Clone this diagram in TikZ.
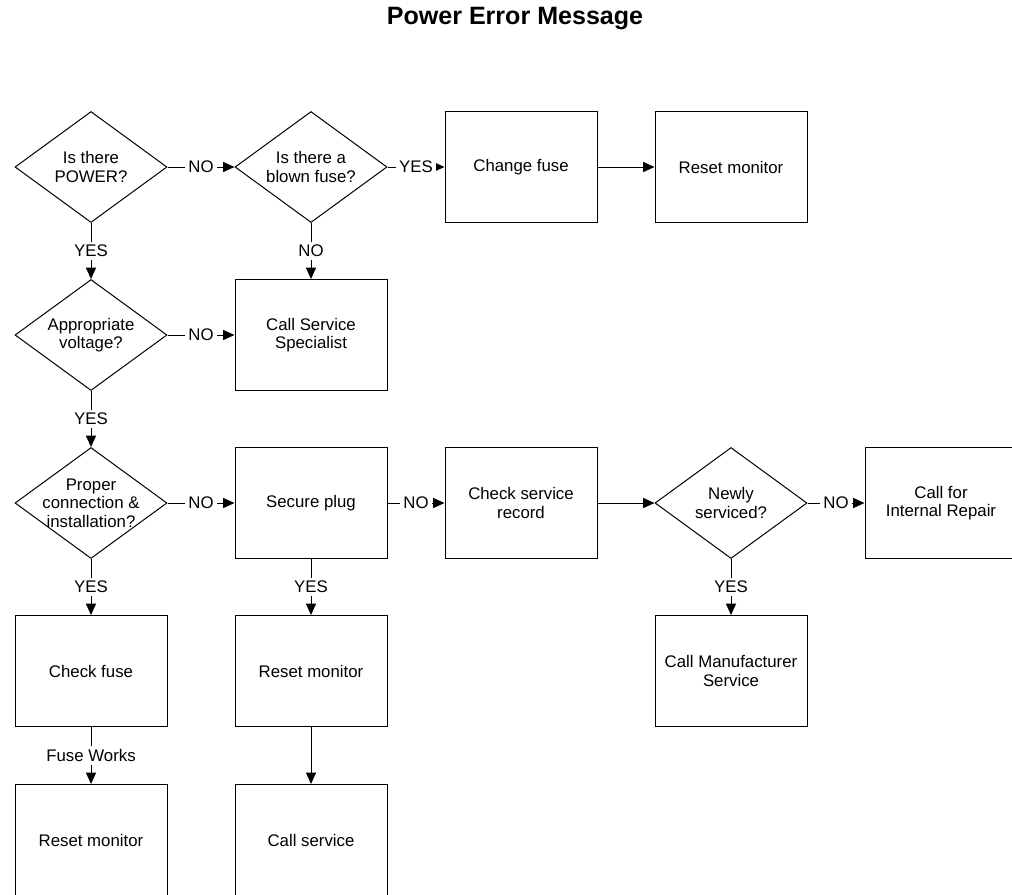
\documentclass[tikz,border=0pt]{standalone}
\usepackage{fontspec}
\setmainfont{Liberation Sans}
\usetikzlibrary{shapes.geometric,arrows.meta}

\tikzset{
  base/.style={font=\fontsize{12.6}{13.9}\selectfont, align=center},
  stepbox/.style={base, draw, line width=0.75pt, rectangle, inner sep=0pt,
    minimum width=114pt, minimum height=83.25pt},
  decision/.style={draw, line width=0.75pt, diamond, inner sep=0pt, aspect=1.37,
    minimum width=114pt, minimum height=83.25pt},
  dtext/.style={base, inner sep=0pt},
  flow/.style={line width=0.75pt, -{Triangle[length=8.5pt,width=7.5pt]}},
  lab/.style={base, fill=white, inner sep=2.2pt},
}

\begin{document}
\begin{tikzpicture}[x=0.75pt, y=-0.75pt]
\useasboundingbox (0,0) rectangle (1012,894);
\clip (0,0) rectangle (1012,894);

% title
\node[font=\fontsize{18.8}{22}\selectfont\bfseries] (title) at (515,18.5) {Power Error Message};

% decisions
\node[decision, label={[dtext]center:Is there\\POWER?}] (power) at (91,167) {};
\node[decision, label={[dtext]center:Is there a\\blown fuse?}] (fuse) at (311,167) {};
\node[decision, label={[dtext]center:Appropriate\\voltage?}] (volt) at (91,335) {};
\node[decision, label={[dtext]center:Proper\\connection \&\\installation?}] (conn) at (91,503) {};
\node[decision, label={[dtext]center:Newly\\serviced?}] (newly) at (731,503) {};

% actions
\node[stepbox] (change) at (521,167) {Change fuse};
\node[stepbox] (reset1) at (731,167) {Reset monitor};
\node[stepbox] (spec) at (311,335) {Call Service\\Specialist};
\node[stepbox] (plug) at (311,503) {Secure plug};
\node[stepbox] (record) at (521,503) {Check service\\record};
\node[stepbox] (internal) at (941,503) {Call for\\Internal Repair};
\node[stepbox] (check) at (91,671) {Check fuse};
\node[stepbox] (reset2) at (311,671) {Reset monitor};
\node[stepbox] (manuf) at (731,671) {Call Manufacturer\\Service};
\node[stepbox] (reset3) at (91,840) {Reset monitor};
\node[stepbox] (callsvc) at (311,840) {Call service};

% connectors
\draw[flow] (power.east) -- node[lab]{NO} (fuse.west);
\draw[flow] (fuse.east) -- node[lab]{YES} (change.west);
\draw[flow] (change.east) -- (reset1.west);
\draw[flow] (power.south) -- node[lab]{YES} (volt.north);
\draw[flow] (fuse.south) -- node[lab]{NO} (spec.north);
\draw[flow] (volt.east) -- node[lab]{NO} (spec.west);
\draw[flow] (volt.south) -- node[lab]{YES} (conn.north);
\draw[flow] (conn.east) -- node[lab]{NO} (plug.west);
\draw[flow] (plug.east) -- node[lab]{NO} (record.west);
\draw[flow] (record.east) -- (newly.west);
\draw[flow] (newly.east) -- node[lab]{NO} (internal.west);
\draw[flow] (conn.south) -- node[lab]{YES} (check.north);
\draw[flow] (plug.south) -- node[lab]{YES} (reset2.north);
\draw[flow] (newly.south) -- node[lab]{YES} (manuf.north);
\draw[flow] (check.south) -- node[lab]{Fuse Works} (reset3.north);
\draw[flow] (reset2.south) -- (callsvc.north);
\end{tikzpicture}
\end{document}
